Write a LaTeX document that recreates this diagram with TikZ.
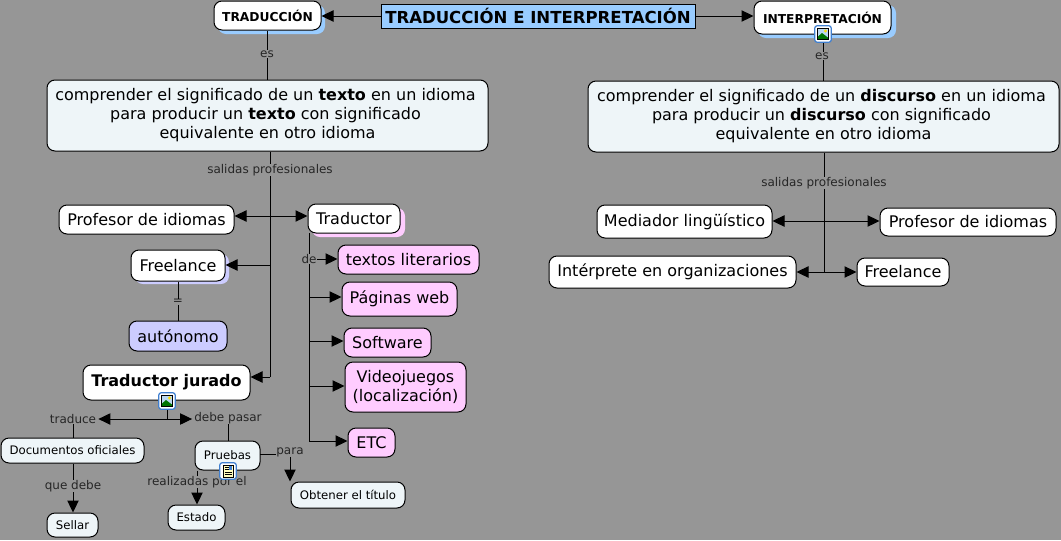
\documentclass[tikz,border=0pt]{standalone}
\usepackage{fontspec}
\setmainfont{DejaVu Sans}
\usetikzlibrary{arrows.meta,calc}
\definecolor{bg}{HTML}{969696}
\definecolor{paleblue}{HTML}{EEF5F8}
\definecolor{mainblue}{HTML}{99CCFF}
\definecolor{pinkc}{HTML}{FFCCFF}
\definecolor{lav}{HTML}{CCCCFF}
\definecolor{iconblue}{HTML}{3F7FD0}
\definecolor{skyc}{HTML}{BBD8F0}
\tikzset{
  conn/.style={line width=0.75pt,black},
  tip/.style={-{Triangle[length=9pt,width=8.5pt]}},
  tips/.style={{Triangle[length=9pt,width=8.5pt]}-{Triangle[length=9pt,width=8.5pt]}},
  rnode/.style={draw=black,line width=0.75pt,rounded corners=6pt,inner sep=0pt,align=center,text=black},
  white box/.style={rnode,fill=white},
  pale box/.style={rnode,fill=paleblue},
  pink box/.style={rnode,fill=pinkc},
  lav box/.style={rnode,fill=lav},
  main box/.style={draw=black,line width=0.75pt,fill=mainblue,inner sep=0pt,align=center},
  shadow blue/.style={fill=mainblue,rounded corners=6pt,inner sep=0pt},
  shadow pink/.style={fill=pinkc,rounded corners=6pt,inner sep=0pt},
  shadow lav/.style={fill=lav,rounded corners=6pt,inner sep=0pt},
  lab/.style={inner sep=0pt,text=black!85,font=\fontsize{9}{11}\selectfont},
  icon frame/.style={draw=iconblue,line width=0.9pt,fill=white,rounded corners=2pt,minimum size=12.5pt,inner sep=0pt},
  big/.style={font=\fontsize{12}{14.7}\selectfont},
  small/.style={font=\fontsize{8.8}{11}\selectfont},
}
\newcommand{\bx}[7]{%
  \pgfmathsetmacro{\bxw}{0.75*(#4-#2)}%
  \pgfmathsetmacro{\bxh}{0.75*(#5-#3)}%
  \node[#6,minimum width=\bxw pt,minimum height=\bxh pt] (#1) at ({(#2+#4)/2},{(#3+#5)/2}) {#7};}
\newcommand{\picicon}[3]{%
  \node[icon frame] (#1) at (#2,#3) {};
  \fill[skyc] (#2-5.5,#3-5.5) rectangle (#2+5.5,#3+5.5);
  \fill[green!45!black] (#2-5.5,#3+5.5) -- (#2-5.5,#3+3) -- (#2-1,#3-1) -- (#2+5.5,#3+4) -- (#2+5.5,#3+5.5) -- cycle;
  \fill[yellow!80!orange] (#2+2.5,#3-3) circle (1.6);
  \draw[black,line width=0.5pt] (#2-5.5,#3-5.5) rectangle (#2+5.5,#3+5.5);}
\newcommand{\docicon}[3]{%
  \node[icon frame] (#1) at (#2,#3) {};
  \fill[yellow!25] (#2-5,#3-6) rectangle (#2+5,#3+6);
  \draw[black,line width=0.5pt] (#2-5,#3-6) rectangle (#2+5,#3+6);
  \draw[black,line width=0.6pt] (#2-3.5,#3-4) -- (#2+0.5,#3-4) (#2-3.5,#3-1.5) -- (#2+0.5,#3-1.5) (#2-3.5,#3+1) -- (#2+3.5,#3+1) (#2-3.5,#3+3.5) -- (#2+3.5,#3+3.5);
  \fill[iconblue] (#2+1,#3-5) rectangle (#2+4,#3-1.5);}
\begin{document}
\begin{tikzpicture}[x=0.75pt,y=-0.75pt]
\useasboundingbox (0,0) rectangle (1061,540);
\fill[bg] (0,0) rectangle (1061,540);
% shadows
\bx{s1}{218}{5}{325}{34}{shadow blue}{}
\bx{s2}{758}{5}{896}{38}{shadow blue}{}
\bx{s3}{312}{208}{405}{237}{shadow pink}{}
\bx{s4}{135}{254}{229}{284}{shadow lav}{}
% nodes
\bx{main}{381}{4}{695}{28}{main box,font=\fontsize{12.4}{14}\selectfont\bfseries}{TRADUCCIÓN E INTERPRETACIÓN}
\bx{trad}{214}{1}{321}{30}{white box,font=\fontsize{9.2}{10}\selectfont\bfseries}{TRADUCCIÓN}
\bx{inter}{754}{1}{891}{34}{white box,font=\fontsize{9.2}{10}\selectfont\bfseries}{INTERPRETACIÓN}
\bx{comp1}{47}{80}{488}{151}{pale box,big}{\raisebox{-1pt}{comprender el significado de un \textbf{texto} en un idioma\hspace{3pt}}\\ \raisebox{-0.5pt}{para producir un \textbf{texto} con significado\hspace{3pt}}\\ equivalente en otro idioma}
\bx{comp2}{588}{81}{1059}{152}{pale box,big}{\raisebox{-1pt}{comprender el significado de un \textbf{discurso} en un idioma\hspace{3pt}}\\ \raisebox{-0.5pt}{para producir un \textbf{discurso} con significado\hspace{3pt}}\\ equivalente en otro idioma}
\bx{prof1}{59}{205}{234}{234}{white box,big}{Profesor de idiomas}
\bx{traductor}{308}{204}{400}{233}{white box,big}{Traductor}
\bx{free1}{131}{250}{225}{281}{white box,big}{Freelance}
\bx{auto}{129}{321}{227}{351}{lav box,big}{autónomo}
\bx{textos}{338}{245}{479}{274}{pink box,big}{textos literarios}
\bx{paginas}{342}{282}{457}{316}{pink box,big}{Páginas web}
\bx{soft}{344}{328}{431}{357}{pink box,big}{Software}
\bx{video}{345}{362}{466}{412}{pink box,big}{Videojuegos\\(localización)}
\bx{etc}{348}{428}{395}{457}{pink box,big}{ETC}
\bx{jurado}{83}{365}{250}{400}{white box,font=\fontsize{12}{15}\selectfont\bfseries}{\raisebox{0.7pt}{Traductor jurado}}
\bx{docs}{1}{438}{144}{463}{pale box,small}{Documentos oficiales}
\bx{pruebas}{195}{441}{260}{470}{pale box,small}{\raisebox{1pt}{Pruebas}}
\bx{obtener}{291}{482}{405}{508}{pale box,small}{Obtener el título}
\bx{estado}{168}{505}{225}{530}{pale box,small}{Estado}
\bx{sellar}{47}{513}{98}{537}{pale box,small}{Sellar}
\bx{med}{597}{205}{772}{238}{white box,big}{\raisebox{0.5pt}{Mediador lingüístico}}
\bx{prof2}{880}{208}{1056}{236}{white box,big}{Profesor de idiomas}
\bx{interp}{549}{256}{796}{288}{white box,big}{Intérprete en organizaciones}
\bx{free2}{857}{258}{949}{286}{white box,big}{Freelance}
% labels
\node[lab] (les1) at (267,54) {es};
\node[lab] (les2) at (822,56) {es};
\node[lab] (lsal1) at (270,170) {salidas profesionales};
\node[lab] (lsal2) at (824,183) {salidas profesionales};
\node[lab] (lde) at (309,259) {de};
\node[lab] (leq) at (178,302) {=};
\node[lab] (ltrad) at (73,419) {traduce};
\node[lab] (ldebe) at (228,418) {debe pasar};
\node[lab] (lpara) at (290,452) {para};
\node[lab] (lque) at (73,486) {que debe};
\node[lab] (lreal) at (197,482) {realizadas por el};
% junction coordinates
\coordinate (j1a) at (270,216);
\coordinate (j1b) at (270,265);
\coordinate (j1c) at (270,377);
\coordinate (j2) at (167,419);
\coordinate (t0) at (309,233);
\coordinate (t1) at (309,297);
\coordinate (t2) at (309,341);
\coordinate (t3) at (309,386);
\coordinate (t4) at (309,441);
\coordinate (r1) at (824,221);
\coordinate (r2) at (824,272);
\coordinate (pe) at (260,454);
% connectors
\draw[conn,tip] (main.west) -- (trad.east|-main.west);
\draw[conn,tip] (main.east) -- (inter.west|-main.east);
\draw[conn] (trad.south-|les1) -- (les1.north);
\draw[conn] (les1.south) -- (comp1.north-|les1);
\draw[conn] (inter.south-|les2) ++(1,0) -- ($(les2.north)+(1,0)$);
\draw[conn] ($(les2.south)+(1,0)$) -- ($(comp2.north-|les2)+(1,0)$);
\draw[conn] (comp1.south-|lsal1) -- (lsal1.north);
\draw[conn] (lsal1.south) -- (j1c);
\draw[conn,tips] (prof1.east|-j1a) -- (traductor.west|-j1a);
\draw[conn,tip] (j1b) -- (free1.east|-j1b);
\draw[conn,tip] (j1c) -- (jurado.east|-j1c);
\draw[conn] (free1.south-|leq) -- (leq.north);
\draw[conn] (leq.south) -- (auto.north-|leq);
\draw[conn] (t0) -- (lde.north);
\draw[conn] (lde.south) -- (t4);
\draw[conn,tip] (lde.east) -- (textos.west|-lde);
\draw[conn,tip] (t1) -- (paginas.west|-t1);
\draw[conn,tip] (t2) -- (soft.west|-t2);
\draw[conn,tip] (t3) -- (video.west|-t3);
\draw[conn,tip] (t4) -- (etc.west|-t4);
\draw[conn] (jurado.south-|j2) -- (j2);
\draw[conn,tips] ($(ltrad.east)+(2,0)$) -- ($(ldebe.west|-ltrad)+(-2,0)$);
\draw[conn] (ltrad.south) -- (docs.north-|ltrad);
\draw[conn] (ldebe.south) -- (pruebas.north-|ldebe);
\draw[conn] (docs.south-|lque) -- (lque.north);
\draw[conn,tip] (lque.south) -- (sellar.north-|lque);
\draw[conn] (pe) -- (lpara.west|-pe);
\draw[conn,tip] (lpara.south) -- (obtener.north-|lpara);
\draw[conn] (pruebas.south-|lreal) -- (lreal.north);
\draw[conn,tip] (lreal.south) -- (estado.north-|lreal);
\draw[conn] (comp2.south-|lsal2) -- (lsal2.north);
\draw[conn] (lsal2.south) -- (r2);
\draw[conn,tips] (med.east|-r1) -- (prof2.west|-r1);
\draw[conn,tips] (interp.east|-r2) -- (free2.west|-r2);
% icons
\picicon{ic1}{823}{34}
\picicon{ic2}{167}{401}
\docicon{ic3}{228}{471}
\end{tikzpicture}
\end{document}
